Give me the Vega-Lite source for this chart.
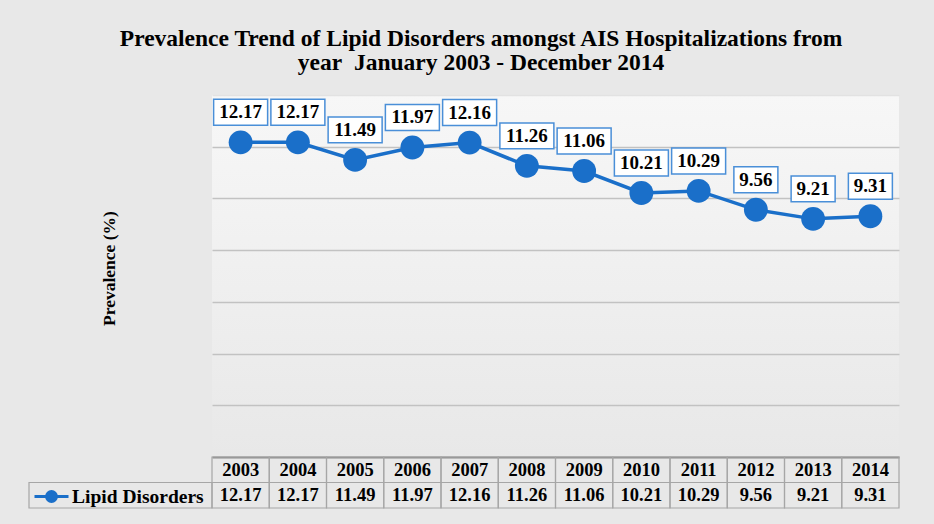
{
  "$schema": "https://vega.github.io/schema/vega-lite/v6.json",
  "background": "#e8e8e8",
  "padding": {"left": 28, "top": 26, "right": 35, "bottom": 16},
  "title": {
    "text": ["Prevalence Trend of Lipid Disorders amongst AIS Hospitalizations from", "year\u00a0 January 2003 - December 2014"],
    "anchor": "middle",
    "dx": 17,
    "font": "Liberation Serif",
    "fontSize": 23.5,
    "fontWeight": "bold",
    "color": "black",
    "offset": 21,
    "lineHeight": 24,
    "frame": "bounds"
  },
  "datasets": {
    "lipid": [
      {"year": "2003", "value": 12.17, "series": "Lipid Disorders"},
      {"year": "2004", "value": 12.17, "series": "Lipid Disorders"},
      {"year": "2005", "value": 11.49, "series": "Lipid Disorders"},
      {"year": "2006", "value": 11.97, "series": "Lipid Disorders"},
      {"year": "2007", "value": 12.16, "series": "Lipid Disorders"},
      {"year": "2008", "value": 11.26, "series": "Lipid Disorders"},
      {"year": "2009", "value": 11.06, "series": "Lipid Disorders"},
      {"year": "2010", "value": 10.21, "series": "Lipid Disorders"},
      {"year": "2011", "value": 10.29, "series": "Lipid Disorders"},
      {"year": "2012", "value": 9.56, "series": "Lipid Disorders"},
      {"year": "2013", "value": 9.21, "series": "Lipid Disorders"},
      {"year": "2014", "value": 9.31, "series": "Lipid Disorders"}
    ],
    "cell": [{"series": "Lipid Disorders"}]
  },
  "columns": 2,
  "spacing": 0,
  "bounds": "flush",
  "concat": [
    {
      "width": 183,
      "height": 362,
      "data": {"name": "cell"},
      "view": {"stroke": null},
      "mark": {"type": "text"},
      "encoding": {}
    },
    {
      "width": 687,
      "height": 362,
      "data": {"name": "lipid"},
      "view": {
        "stroke": null,
        "fill": {
          "gradient": "linear",
          "x1": 0, "y1": 0, "x2": 0, "y2": 1,
          "stops": [
            {"offset": 0, "color": "#f7f7f7"},
            {"offset": 1, "color": "#e8e8e8"}
          ]
        }
      },
      "encoding": {
        "x": {
          "field": "year",
          "type": "ordinal",
          "scale": {"type": "point", "padding": 0.5},
          "axis": {"labels": false, "ticks": false, "title": null, "grid": false, "domainColor": "#8c8c8c", "domainWidth": 2}
        },
        "y": {
          "field": "value",
          "type": "quantitative",
          "scale": {"domain": [0, 14]},
          "axis": {
            "values": [2, 4, 6, 8, 10, 12, 14],
            "labels": false,
            "ticks": false,
            "domain": false,
            "grid": true,
            "gridColor": {"condition": {"test": "datum.value >= 14", "value": "#e2e2e2"}, "value": "#c2c2c2"},
            "gridWidth": 1.5,
            "title": "Prevalence (%)",
            "titleFont": "Liberation Serif",
            "titleFontSize": 17.5,
            "titleFontWeight": "bold",
            "titleColor": "black",
            "titlePadding": 94,
            "titleY": 173
          }
        }
      },
      "layer": [
        {
          "mark": {"type": "line", "strokeWidth": 3.5},
          "encoding": {
            "color": {
              "field": "series",
              "type": "nominal",
              "scale": {"range": ["#1a6fc9"]},
              "legend": {
                "title": null,
                "orient": "none",
                "legendX": 4,
                "legendY": 383,
                "padding": 0,
                "symbolType": "M-1,0H1M-0.29,0A0.29,0.29,0,1,0,0.29,0A0.29,0.29,0,1,0,-0.29,0Z",
                "symbolSize": 1156,
                "symbolStrokeWidth": 3,
                "symbolFillColor": "#1a6fc9",
                "symbolStrokeColor": "#1a6fc9",
                "labelFont": "Liberation Serif",
                "labelFontSize": 19.5,
                "labelFontWeight": "bold",
                "labelColor": "black",
                "labelOffset": 2
              }
            }
          }
        },
        {
          "mark": {"type": "point", "filled": true, "opacity": 1, "size": 570, "color": "#1a6fc9"}
        },
        {
          "mark": {"type": "point", "filled": true, "fill": "white", "stroke": "#4a8fd8", "strokeWidth": 1.5, "opacity": 1, "yOffset": -30},
          "encoding": {
            "shape": {"condition": {"test": "datum.value < 10", "value": "M-1,-0.59H1V0.59H-1Z"}, "value": "M-1,-0.48H1V0.48H-1Z"},
            "size": {"condition": {"test": "datum.value < 10", "value": 1936}, "value": 2916}
          }
        },
        {
          "mark": {"type": "text", "font": "Liberation Serif", "fontSize": 19, "fontWeight": "bold", "color": "black", "yOffset": -30, "baseline": "middle"},
          "encoding": {"text": {"field": "value", "type": "quantitative", "format": ".2f"}}
        }
      ]
    },
    {
      "width": 183,
      "height": 51,
      "data": {"name": "cell"},
      "view": {"stroke": null},
      "mark": {"type": "rect", "fillOpacity": 0, "stroke": "#a6a6a6", "strokeWidth": 1.2},
      "encoding": {
        "y": {"datum": "v", "type": "nominal", "scale": {"domain": ["h", "v"], "paddingInner": 0, "paddingOuter": 0}, "axis": null}
      }
    },
    {
      "width": 687,
      "height": 51,
      "data": {"name": "lipid"},
      "view": {"stroke": null},
      "encoding": {
        "x": {"field": "year", "type": "ordinal", "scale": {"type": "band", "paddingInner": 0, "paddingOuter": 0}, "axis": null}
      },
      "layer": [
        {
          "mark": {"type": "rect", "fillOpacity": 0, "stroke": "#a6a6a6", "strokeWidth": 1.2},
          "encoding": {"y": {"datum": "h", "type": "nominal", "scale": {"domain": ["h", "v"], "paddingInner": 0, "paddingOuter": 0}, "axis": null}}
        },
        {
          "mark": {"type": "rect", "fillOpacity": 0, "stroke": "#a6a6a6", "strokeWidth": 1.2},
          "encoding": {"y": {"datum": "v", "type": "nominal"}}
        },
        {
          "mark": {"type": "text", "font": "Liberation Serif", "fontSize": 18.5, "fontWeight": "bold", "color": "black", "baseline": "middle"},
          "encoding": {"y": {"datum": "h", "type": "nominal"}, "text": {"field": "year", "type": "nominal"}}
        },
        {
          "mark": {"type": "text", "font": "Liberation Serif", "fontSize": 18.5, "fontWeight": "bold", "color": "black", "baseline": "middle"},
          "encoding": {"y": {"datum": "v", "type": "nominal"}, "text": {"field": "value", "type": "quantitative", "format": ".2f"}}
        }
      ]
    }
  ]
}
